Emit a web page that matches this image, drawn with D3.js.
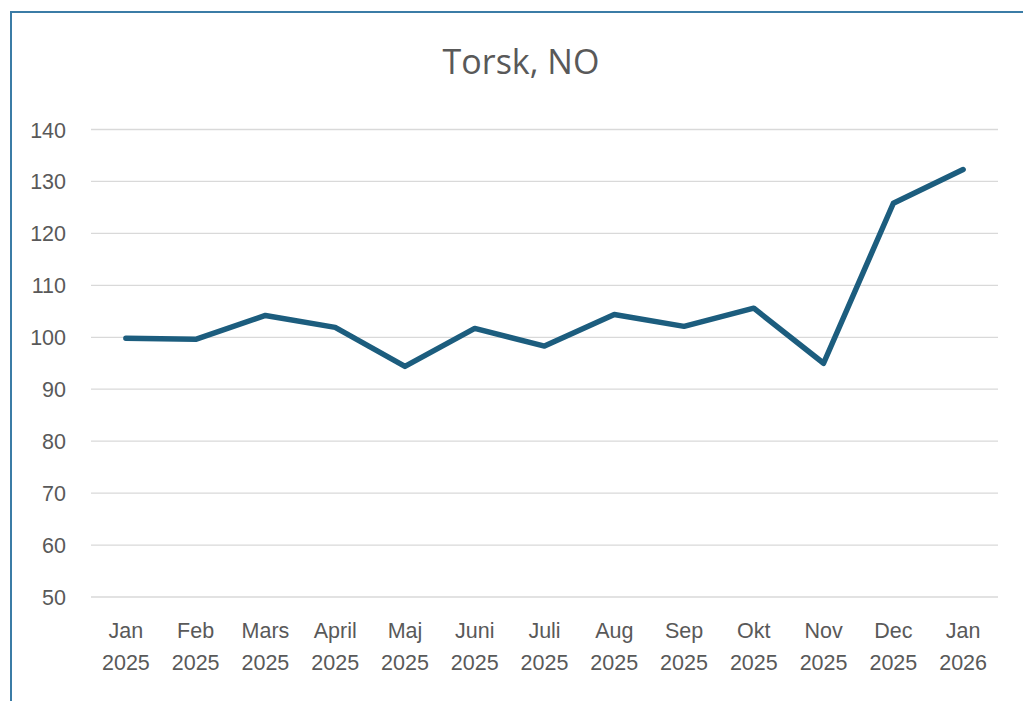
<!DOCTYPE html>
<html>
<head>
<meta charset="utf-8">
<script src="https://cdn.jsdelivr.net/npm/d3@7"></script>
<style>
  body { margin: 0; background: #fff; }
  svg { display: block; font-family: "Open Sans", "Liberation Sans", Arial, sans-serif; }
  .grid line { stroke: #d9d9d9; stroke-width: 1.3; }
  .axis text { fill: #595959; font-size: 21.5px; }
</style>
</head>
<body>
<svg width="1023" height="701"></svg>
<script>
// maanden (twee regels per label)
var months = ["Jan", "Feb", "Mars", "April", "Maj", "Juni", "Juli", "Aug", "Sep", "Okt", "Nov", "Dec", "Jan"];
var years = ["2025", "2025", "2025", "2025", "2025", "2025", "2025", "2025", "2025", "2025", "2025", "2025", "2026"];
// indexwaarden
var values = [99.8, 99.6, 104.2, 101.9, 94.4, 101.7, 98.3, 104.4, 102.1, 105.6, 95.0, 125.8, 132.3];
var yTicks = [50, 60, 70, 80, 90, 100, 110, 120, 130, 140];

var svg = d3.select("svg"),
	margin = { top: 129.5, right: 25, bottom: 104, left: 91 },
	width = +svg.attr("width") - margin.left - margin.right,
	height = +svg.attr("height") - margin.top - margin.bottom;

var data = months.map(function(m, i) {
	return { key: i, month: m, year: years[i], value: values[i] };
});

// kader van het werkblad
svg.append("line").attr("x1", 11).attr("x2", 11).attr("y1", 12).attr("y2", 701)
	.attr("stroke", "#3b7ca6").attr("stroke-width", 2);
svg.append("line").attr("x1", 10).attr("x2", 1023).attr("y1", 12).attr("y2", 12)
	.attr("stroke", "#3b7ca6").attr("stroke-width", 2);

var x = d3.scaleBand().domain(data.map(function(d) { return d.key; })).range([0, width]),
	y = d3.scaleLinear().domain([50, 140]).range([height, 0]);

var g = svg.append("g").attr("transform", "translate(" + margin.left + "," + margin.top + ")");

// titel
svg.append("text")
	.attr("x", 521).attr("y", 74)
	.attr("text-anchor", "middle")
	.attr("fill", "#595959")
	.style("font-size", "34px")
	.text("Torsk, NO");

// horizontale rasterlijnen
g.append("g").attr("class", "grid")
	.selectAll("line").data(yTicks).enter().append("line")
	.attr("x1", 0).attr("x2", width)
	.attr("y1", function(d) { return y(d); })
	.attr("y2", function(d) { return y(d); });

// y-as
var yAxis = g.append("g").attr("class", "axis axis--y")
	.call(d3.axisLeft(y).tickValues(yTicks).tickSize(0).tickPadding(25));
yAxis.select(".domain").remove();
yAxis.selectAll("text").attr("dy", "0.35em");

// x-as met twee regels
var xAxis = g.append("g").attr("class", "axis axis--x")
	.attr("transform", "translate(0," + height + ")")
	.call(d3.axisBottom(x).tickSize(0).tickFormat(""));
xAxis.select(".domain").remove();
xAxis.selectAll(".tick text").remove();
xAxis.selectAll(".tick").each(function(k) {
	var t = d3.select(this);
	t.append("text").attr("x", 0).attr("y", 41).attr("text-anchor", "middle").text(data[k].month);
	t.append("text").attr("x", 0).attr("y", 73).attr("text-anchor", "middle").text(data[k].year);
});

// de lijn
var line = d3.line()
	.x(function(d) { return x(d.key) + x.bandwidth() / 2; })
	.y(function(d) { return y(d.value); });

g.append("path").datum(data)
	.attr("fill", "none")
	.attr("stroke", "#1c5d7e")
	.attr("stroke-width", 5.5)
	.attr("stroke-linejoin", "round")
	.attr("stroke-linecap", "round")
	.attr("d", line);
</script>
</body>
</html>
